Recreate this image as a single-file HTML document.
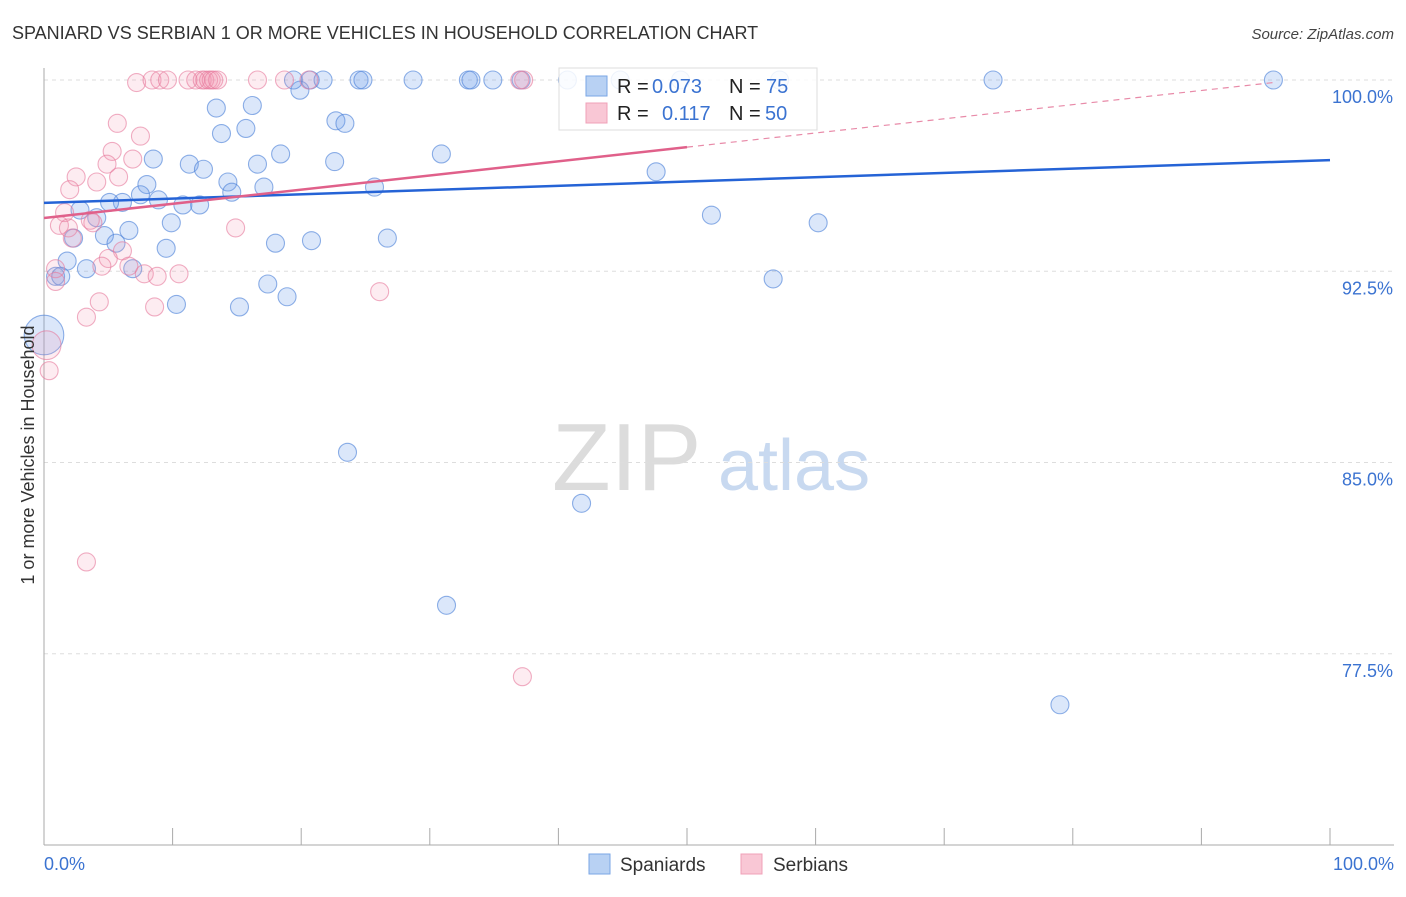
<!DOCTYPE html>
<html><head><meta charset="utf-8"><style>
body{margin:0;background:#fff;font-family:"Liberation Sans",sans-serif;}
svg text{font-family:"Liberation Sans",sans-serif;}
</style></head><body>
<svg id="chart" width="1406" height="892" xmlns="http://www.w3.org/2000/svg">
<text x="12" y="39" font-size="18" fill="#333">SPANIARD VS SERBIAN 1 OR MORE VEHICLES IN HOUSEHOLD CORRELATION CHART</text>
<text x="1394" y="39" font-size="15" fill="#444" text-anchor="end" font-style="italic">Source: ZipAtlas.com</text>
<g>
<text x="552" y="490" font-size="96" font-family="Liberation Serif,serif" fill="#dcdcdc">ZIP</text>
<text x="718" y="490" font-size="72" fill="#c8d9f0">atlas</text>
</g>
<g id="grid"></g>
<g id="axes"></g>
<g id="pts"></g>
<g id="lines"></g>
<g>
<rect x="559" y="68" width="258" height="62" fill="#fff" fill-opacity="0.85" stroke="#ddd"/>
<rect x="586" y="76" width="21" height="20" fill="#b8d1f3" stroke="#7aa6e6"/>
<text x="617" y="93" font-size="20" fill="#222">R = </text><text x="652" y="93" font-size="20" fill="#3b73d1">0.073</text>
<text x="729" y="93" font-size="20" fill="#222">N = </text><text x="766" y="93" font-size="20" fill="#3b73d1">75</text>
<rect x="586" y="103" width="21" height="20" fill="#f9c7d5" stroke="#f0a0b8"/>
<text x="617" y="120" font-size="20" fill="#222">R = </text><text x="662" y="120" font-size="20" fill="#3b73d1">0.117</text>
<text x="729" y="120" font-size="20" fill="#222">N = </text><text x="765" y="120" font-size="20" fill="#3b73d1">50</text>
</g>
<g>
<rect x="589" y="854" width="21" height="20" fill="#b8d1f3" stroke="#7aa6e6"/>
<text x="620" y="871" font-size="19" fill="#333">Spaniards</text>
<rect x="741" y="854" width="21" height="20" fill="#f9c7d5" stroke="#f0a0b8"/>
<text x="773" y="871" font-size="19" fill="#333">Serbians</text>
</g>
<text transform="translate(34,455) rotate(-90)" font-size="18" fill="#333" text-anchor="middle">1 or more Vehicles in Household</text>
<text x="44" y="870" font-size="18" fill="#3b73d1">0.0%</text>
<text x="1394" y="870" font-size="18" fill="#3b73d1" text-anchor="end">100.0%</text>
</svg>
<script>
const yTicks=[100,92.5,85,77.5];
const yTickLabels=["100.0%","92.5%","85.0%","77.5%"];
const blueX=[19.9,19.4,20.7,21.7,24.5,24.8,28.7,33.0,33.2,34.9,37.1,40.7,44.8,49.5,57.2,73.8,95.6,13.4,16.2,13.8,15.7,22.7,23.4,8.5,11.3,12.4,18.4,16.6,22.6,30.9,47.6,8.0,14.3,17.1,14.6,25.7,7.5,8.9,6.1,5.1,10.8,12.1,2.8,4.1,9.9,51.9,60.2,2.3,4.7,6.6,5.6,9.5,18.0,20.8,26.7,1.8,3.3,6.9,0.9,1.3,56.7,17.4,18.9,10.3,15.2,0,23.6,41.8,31.3,79.0];
const blueY=[99.6,100,100,100,100,100,100,100,100,100,100,100,100,100,100,100,100,98.9,99.0,97.9,98.1,98.4,98.3,96.9,96.7,96.5,97.1,96.7,96.8,97.1,96.4,95.9,96.0,95.8,95.6,95.8,95.5,95.3,95.2,95.2,95.1,95.1,94.9,94.6,94.4,94.7,94.4,93.8,93.9,94.1,93.6,93.4,93.6,93.7,93.8,92.9,92.6,92.6,92.3,92.3,92.2,92.0,91.5,91.2,91.1,90.0,85.4,83.4,79.4,75.5];
const blueSize=blueX.map((v,i)=>i===65?2.2:1);
const pinkX=[7.2,8.4,9.0,9.6,11.2,11.8,12.3,12.5,12.8,13.0,13.2,13.5,16.6,18.7,20.6,37.0,37.3,5.7,7.5,5.3,6.9,4.9,5.8,2.5,2.0,4.1,1.6,1.2,3.8,1.9,2.2,3.6,14.9,6.1,5.0,4.5,6.6,7.8,8.8,10.5,0.9,0.9,4.3,3.3,8.6,26.1,0.2,0.4,3.3,37.2];
const pinkY=[99.9,100,100,100,100,100,100,100,100,100,100,100,100,100,100,100,100,98.3,97.8,97.2,96.9,96.7,96.2,96.2,95.7,96.0,94.8,94.3,94.4,94.2,93.8,94.5,94.2,93.3,93.0,92.7,92.7,92.4,92.3,92.4,92.6,92.1,91.3,90.7,91.1,91.7,89.6,88.6,81.1,76.6];
const pinkSize=pinkX.map((v,i)=>i===46?1.6:1);
const blueTrend=[95.18,96.86];
const pinkTrend=[94.59,99.9];
const NS='http://www.w3.org/2000/svg';
const X0=44,X1=1330,Ytop=80,PX=25.5;
const xs=v=>X0+(X1-X0)*v/100;
const ys=v=>Ytop+(100-v)*PX;
function mk(t,a,p){const e=document.createElementNS(NS,t);for(const k in a)e.setAttribute(k,a[k]);p.appendChild(e);return e;}
const grid=document.getElementById('grid'),axes=document.getElementById('axes'),pts=document.getElementById('pts'),lines=document.getElementById('lines');
yTicks.forEach((t,i)=>{
 const l=mk('line',{x1:44,x2:1394,y1:ys(t),y2:ys(t),stroke:'#ddd','stroke-dasharray':'4,4'},grid);
 
 
 const tx=mk('text',{x:1393,y:ys(t)+23,'font-size':18,fill:'#3b73d1','text-anchor':'end'},axes);
 tx.textContent=yTickLabels[i];
 
 
});
const ax=mk('line',{x1:44,x2:44,y1:68,y2:845,stroke:'#aaa'},axes);


const bx=mk('line',{x1:44,x2:1394,y1:845,y2:845,stroke:'#aaa'},axes);


for(let i=0;i<=10;i++){const t=mk('line',{x1:xs(i*10),x2:xs(i*10),y1:828,y2:845,stroke:'#aaa'},axes);
 
 }
function draw(X,Y,S,fill,stroke,name){X.forEach((x,i)=>{
 const c=mk('circle',{cx:xs(x),cy:ys(Y[i]),r:9*S[i],fill:fill,stroke:stroke,'stroke-width':1.1},pts);
 
 });}
draw(blueX,blueY,blueSize,'rgba(110,160,235,0.25)','rgba(70,125,215,0.6)','spaniard-point');
draw(pinkX,pinkY,pinkSize,'rgba(245,150,180,0.18)','rgba(230,120,155,0.6)','serbian-point');
const bl=mk('line',{x1:xs(0),y1:ys(blueTrend[0]),x2:xs(100),y2:ys(blueTrend[1]),stroke:'#2563d6','stroke-width':2.5},lines);


const pv=x=>pinkTrend[0]+(pinkTrend[1]-pinkTrend[0])*x/95.6;
const pl=mk('line',{x1:xs(0),y1:ys(pv(0)),x2:xs(50),y2:ys(pv(50)),stroke:'#e0608a','stroke-width':2.5},lines);


const pd=mk('line',{x1:xs(50),y1:ys(pv(50)),x2:xs(95.6),y2:ys(pv(95.6)),stroke:'#e88aa8','stroke-width':1.2,'stroke-dasharray':'6,5'},lines);


</script>
</body></html>
